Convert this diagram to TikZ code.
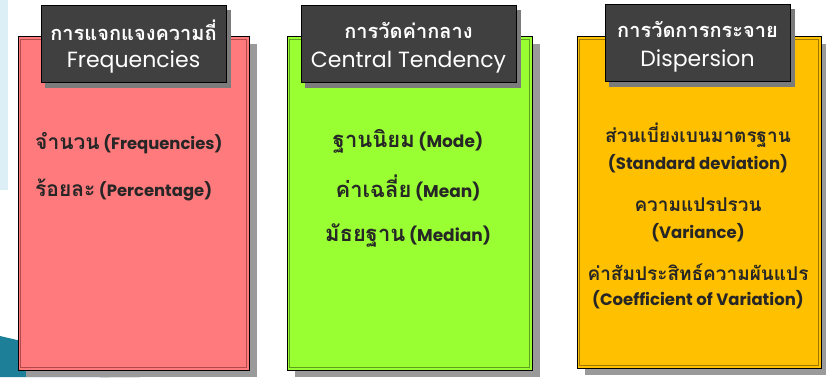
\documentclass[tikz,border=0pt]{standalone}
\usepackage{fontspec}
\setmainfont{Poppins}
\newfontfamily\thai[Script=Thai]{Loma}
\usetikzlibrary{positioning}
\definecolor{pinkf}{HTML}{FF7A7C}
\definecolor{pinkd}{HTML}{B04A4C}
\definecolor{greenf}{HTML}{99FF33}
\definecolor{greend}{HTML}{5CA01E}
\definecolor{orangef}{HTML}{FFC000}
\definecolor{oranged}{HTML}{A07800}
\definecolor{headf}{HTML}{404040}
\definecolor{shadowc}{HTML}{9A9A9A}
\definecolor{bgblue}{HTML}{DDEFF6}
\definecolor{decoteal}{HTML}{1E7F99}
\tikzset{
  panel/.style={draw=black, line width=1pt, inner sep=0pt},
  header/.style={draw=black, line width=1pt, fill=headf, inner sep=0pt, text=white, align=center},
  bodytext/.style={font=\bfseries\fontsize{17}{18}\selectfont, text=black!85, inner sep=0pt},
  firsttext/.style={font=\bfseries\fontsize{16.4}{18}\selectfont, text=black!85, inner sep=0pt},
  smalltext/.style={font=\bfseries\fontsize{16.5}{18}\selectfont, text=black!85, inner sep=0pt},
}
\newcommand{\thw}[1]{{\thai\bfseries\fontsize{22}{18}\selectfont #1}}
\newcommand{\thf}[1]{{\thai\bfseries\fontsize{21}{18}\selectfont #1}}
\newcommand{\ths}[1]{{\thai\bfseries\fontsize{19}{18}\selectfont #1}}
\begin{document}
\begin{tikzpicture}[x=1pt,y=-1pt]
\useasboundingbox (0,0) rectangle (826,377);
% background remnants
\fill[bgblue] (0,0) rectangle (8,190);
\fill[decoteal] (0,336) -- (60,350) -- (110,377) -- (0,377) -- cycle;
\fill[black!80] (90,370) -- (140,377) -- (100,377) -- cycle;
% shadows
\fill[shadowc] (26,44) rectangle (257,377);
\fill[shadowc] (295,44) rectangle (540,377);
\fill[shadowc] (585,44) rectangle (829,375);
% panels
\node[panel, fill=pinkf, minimum width=231pt, minimum height=333pt] (p1) at (133.5,203.5) {};
\node[panel, fill=greenf, minimum width=245pt, minimum height=333pt] (p2) at (409.5,203.5) {};
\node[panel, fill=orangef, minimum width=244pt, minimum height=331pt] (p3) at (699,202.5) {};
\draw[pinkd, line width=0.8pt] ([xshift=3pt,yshift=-3pt]p1.north west) rectangle ([xshift=-3pt,yshift=3pt]p1.south east);
\draw[greend, line width=0.8pt] ([xshift=3pt,yshift=-3pt]p2.north west) rectangle ([xshift=-3pt,yshift=3pt]p2.south east);
\draw[oranged, line width=0.8pt] ([xshift=3pt,yshift=-3pt]p3.north west) rectangle ([xshift=-3pt,yshift=3pt]p3.south east);
% header shadows
\fill[shadowc!80!black] (45,10) rectangle (231,88);
\fill[shadowc!80!black] (305,10) rectangle (521,88);
\fill[shadowc!80!black] (609,9) rectangle (795,87);
% headers
\node[header, minimum width=185pt, minimum height=77pt] (h1) at (133.5,44.5) {};
\node[header, minimum width=215pt, minimum height=77pt] (h2) at (408.5,44.5) {};
\node[header, minimum width=185pt, minimum height=77pt] (h3) at (697.5,43.5) {};
\node[text=white, inner sep=0pt] (h1a) at (133.5,30) {\thai\bfseries\fontsize{20}{20}\selectfont การแจกแจงความถี่};
\node[text=white, inner sep=0pt] (h1b) at (133.5,62) {\fontsize{22}{22}\selectfont Frequencies};
\node[text=white, inner sep=0pt] (h2a) at (408.5,30) {\thai\bfseries\fontsize{20}{20}\selectfont การวัดค่ากลาง};
\node[text=white, inner sep=0pt] (h2b) at (408.5,62) {\fontsize{22}{22}\selectfont Central Tendency};
\node[text=white, inner sep=0pt] (h3a) at (697.5,29) {\thai\bfseries\fontsize{20}{20}\selectfont การวัดการกระจาย};
\node[text=white, inner sep=0pt] (h3b) at (697.5,61) {\fontsize{22}{22}\selectfont Dispersion};
% body texts panel 1
\node[firsttext, anchor=west] (t11) at (35,143) {\thf{จำนวน} (Frequencies)};
\node[firsttext, anchor=west] (t12) at (35,190) {\thf{ร้อยละ} (Percentage)};
% panel 2
\node[bodytext] (t21) at (408,141) {\thw{ฐานนิยม} (Mode)};
\node[bodytext] (t22) at (408,188) {\thw{ค่าเฉลี่ย} (Mean)};
\node[bodytext] (t23) at (408,236) {\thw{มัธยฐาน} (Median)};
% panel 3
\node[smalltext] (t31) at (698,135) {\ths{ส่วนเบี่ยงเบนมาตรฐาน}};
\node[smalltext] (t32) at (698,164) {(Standard deviation)};
\node[smalltext] (t33) at (698,205) {\ths{ความแปรปรวน}};
\node[smalltext] (t34) at (698,233) {(Variance)};
\node[smalltext] (t35) at (698,272) {\ths{ค่าสัมประสิทธ์ความผันแปร}};
\node[smalltext] (t36) at (698,300) {(Coefficient of Variation)};
\end{tikzpicture}
\end{document}
